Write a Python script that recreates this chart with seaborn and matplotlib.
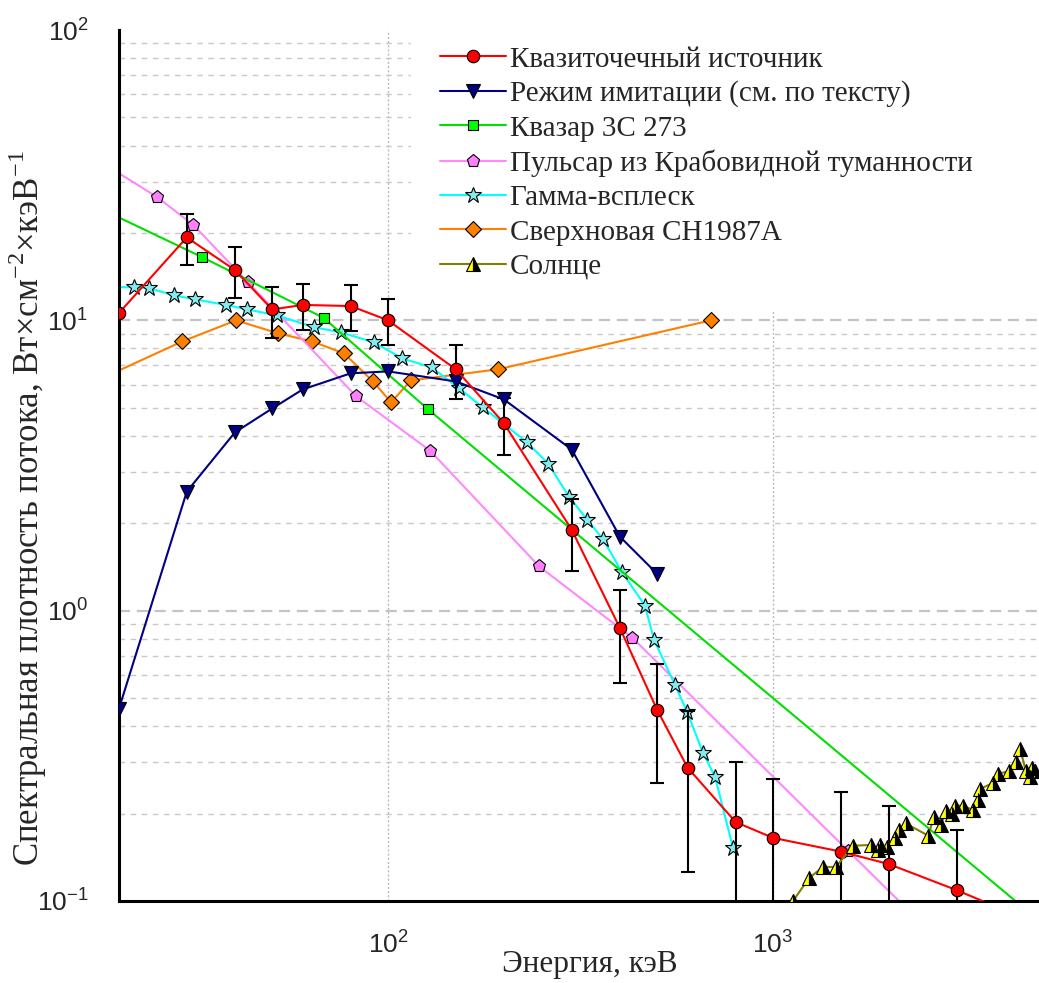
import numpy as np
import matplotlib
matplotlib.use("Agg")
import matplotlib.pyplot as plt
import seaborn as sns
from matplotlib.ticker import LogLocator, LogFormatterSciNotation, NullFormatter

# ---------------- data ----------------
red_x = [20, 30, 40, 50, 60, 80, 100, 150, 200, 300, 400, 500, 600, 800, 1000, 1500, 2000, 3000, 5000]
red_y = [10.6, 19.3, 14.9, 10.9, 11.3, 11.2, 10.0, 6.78, 4.42, 1.90, 0.873, 0.456, 0.288, 0.187, 0.165, 0.148, 0.134, 0.109, 0.082]
red_hi = [np.nan, 23.2, 17.9, 13.0, 13.3, 13.2, 11.8, 8.2, 5.38, 2.43, 1.18, 0.657, 0.45, 0.30, 0.263, 0.237, 0.213, 0.175, np.nan]
red_lo = [np.nan, 15.5, 11.9, 8.67, 9.24, 9.2, 8.2, 5.34, 3.43, 1.37, 0.563, 0.255, 0.126, 0.01, 0.01, 0.01, 0.01, 0.01, np.nan]

blue_x = [20, 30, 40, 50, 60, 80, 100, 150, 200, 300, 400, 500]
blue_y = [0.46, 2.57, 4.11, 4.97, 5.78, 6.57, 6.67, 6.16, 5.34, 3.59, 1.80, 1.34]

green_x = [20, 32.9, 68, 127, 5000]
green_y = [22.6, 16.5, 10.2, 4.94, 0.0838]

pink_x = [20, 25.1, 31.2, 43.3, 82.7, 128.5, 247, 431, 1567, 3000]
pink_y = [32.1, 26.6, 21.3, 13.5, 5.47, 3.56, 1.42, 0.807, 0.149, 0.0637]

cyan_x = [20, 21.9, 23.9, 27.8, 31.6, 37.9, 43.1, 51.5, 64.3, 75.5, 92, 108.7, 130, 153,
          176.5, 229.6, 260.6, 295, 329, 362, 405, 465, 491, 556, 598, 658, 707, 788]
cyan_y = [13.0, 13.0, 12.9, 12.2, 11.8, 11.3, 10.9, 10.4, 9.46, 9.09, 8.39, 7.40, 6.88, 5.83,
          5.01, 3.80, 3.21, 2.47, 2.06, 1.76, 1.36, 1.04, 0.794, 0.556, 0.449, 0.324, 0.268, 0.152]

orange_x = [20, 29.2, 40.3, 51.8, 63.5, 76.9, 91.4, 101.8, 114.7, 193, 690]
orange_y = [6.72, 8.46, 10.0, 9.02, 8.46, 7.69, 6.16, 5.22, 6.21, 6.78, 10.0]

sun_x = [1127, 1242, 1349, 1457, 1615, 1799, 1880, 1900, 1983, 2075, 2123, 2213, 2529, 2620, 2730,
         2812, 2912, 2971, 3118, 3305, 3407, 3450, 3725, 3837, 4100, 4275, 4385, 4540, 4660, 4700, 4800]
sun_y = [0.100, 0.120, 0.131, 0.131, 0.155, 0.156, 0.150, 0.156, 0.153, 0.165, 0.176, 0.185, 0.168, 0.194, 0.182,
         0.204, 0.200, 0.213, 0.213, 0.206, 0.223, 0.243, 0.255, 0.274, 0.280, 0.300, 0.335, 0.280, 0.267, 0.288, 0.280]

labels = ["Квазиточечный источник",
          "Режим имитации (см. по тексту)",
          "Квазар 3С 273",
          "Пульсар из Крабовидной туманности",
          "Гамма-всплеск",
          "Сверхновая СН1987А",
          "Солнце"]

x_label = "Энергия, кэВ"
y_label = (r"Спектральная плотность потока, Вт×см$^{\mathdefault{-2}}$"
           r"×кэВ$^{\mathdefault{-1}}$")

# ---------------- style ----------------
sns.set_style("white")
plt.rcParams["font.family"] = ["Liberation Serif", "DejaVu Serif"]
plt.rcParams["mathtext.fontset"] = "custom"
plt.rcParams["mathtext.rm"] = "Liberation Serif"

fig = plt.figure(figsize=(10.39, 9.83), dpi=100)
ax = fig.add_axes([119 / 1039, 82 / 983, 923 / 1039, 871 / 983])
ax.set_xscale("log")
ax.set_yscale("log")
ax.set_xlim(20, 5000)
ax.set_ylim(0.1, 100)

handles = []


def series(x, y, label, color, marker, ms, mfc, z, markevery=None, **kw):
    sns.lineplot(x=x, y=y, ax=ax, color=color, lw=1.5, marker=marker, markersize=ms,
                 markerfacecolor=mfc, markeredgecolor="black", markeredgewidth=0.8,
                 estimator=None, sort=False, zorder=z, markevery=markevery, **kw)
    line = ax.lines[-1]
    line.set_label(label)
    handles.append(line)
    return line


# error bars for the quasi-point source
rx = np.array(red_x, float)
ry = np.array(red_y, float)
rh = np.array(red_hi, float)
rl = np.array(red_lo, float)
m = ~np.isnan(rh)
ax.errorbar(rx[m], ry[m], yerr=[ry[m] - rl[m], rh[m] - ry[m]], fmt="none", ecolor="black",
            elinewidth=1.5, capsize=4.8, capthick=1.5, zorder=2.6)

series(red_x, red_y, labels[0], "#FF0000", "o", 9, "#FF0000", 2.8)
series(blue_x, blue_y, labels[1], "#000080", "v", 10, "#000080", 2.7)
series(green_x, green_y, labels[2], "#00E000", "s", 6.5, "#00FF00", 2.5, markevery=[1, 2, 3])
series(pink_x, pink_y, labels[3], "#FF88FF", "p", 9.5, "#FF80FF", 2.4, markevery=list(range(1, len(pink_x))))
series(cyan_x, cyan_y, labels[4], "#00FFFF", "*", 12, "#80EEEE", 2.45, markevery=list(range(1, len(cyan_x))))
series(orange_x, orange_y, labels[5], "#FF8000", "D", 8, "#FF8000", 2.3, markevery=list(range(1, len(orange_x))))
series(sun_x, sun_y, labels[6], "#808000", "^", 9.5, "#FFFF00", 2.9, fillstyle="left", markerfacecoloralt="black")

# ---------------- axes ----------------
for s in ["top", "right"]:
    ax.spines[s].set_visible(False)
for s in ["left", "bottom"]:
    ax.spines[s].set_linewidth(2.2)
    ax.spines[s].set_color("black")

for axis in (ax.xaxis, ax.yaxis):
    axis.set_major_locator(LogLocator(base=10, numticks=10))
    axis.set_minor_locator(LogLocator(base=10, subs=np.arange(2, 10), numticks=20))
    axis.set_major_formatter(LogFormatterSciNotation())
    axis.set_minor_formatter(NullFormatter())

ax.tick_params(which="major", direction="out", length=15, width=2, labelsize=19, pad=7,
               labelfontfamily="Liberation Sans", color="black")
ax.tick_params(which="minor", direction="out", length=7, width=1.5, color="black")

ax.grid(which="major", axis="y", ls=(0, (5, 3)), color="#c4c4c4", lw=1.6)
ax.grid(which="minor", axis="y", ls=(0, (4, 4)), color="#c8c8c8", lw=1.0)
ax.grid(which="major", axis="x", ls=(0, (1.5, 1.5)), color="#bbbbbb", lw=1.0)
ax.set_axisbelow(True)

ax.set_xlabel(x_label, fontsize=22.5)
ax.set_ylabel(y_label, fontsize=25)
ax.xaxis.set_label_coords(0.51, -0.056)
ax.yaxis.set_label_coords(-0.076, 0.451)

leg = ax.legend(handles=handles, loc="upper left", bbox_to_anchor=(0.316, 0.0, 0.70, 1.015),
                mode="expand", frameon=True, fancybox=False, framealpha=1, edgecolor="white",
                facecolor="white", fontsize=21, handlelength=2.27, handletextpad=0.12,
                labelspacing=0.27, borderpad=1.0, borderaxespad=0)
leg.set_zorder(5)

fig.canvas.draw()
for t in ax.yaxis.get_major_ticks():
    if np.isclose(t.get_loc(), 100) or np.isclose(t.get_loc(), 0.1):
        t.gridline.set_visible(False)

fig.savefig("out.png", dpi=100)
